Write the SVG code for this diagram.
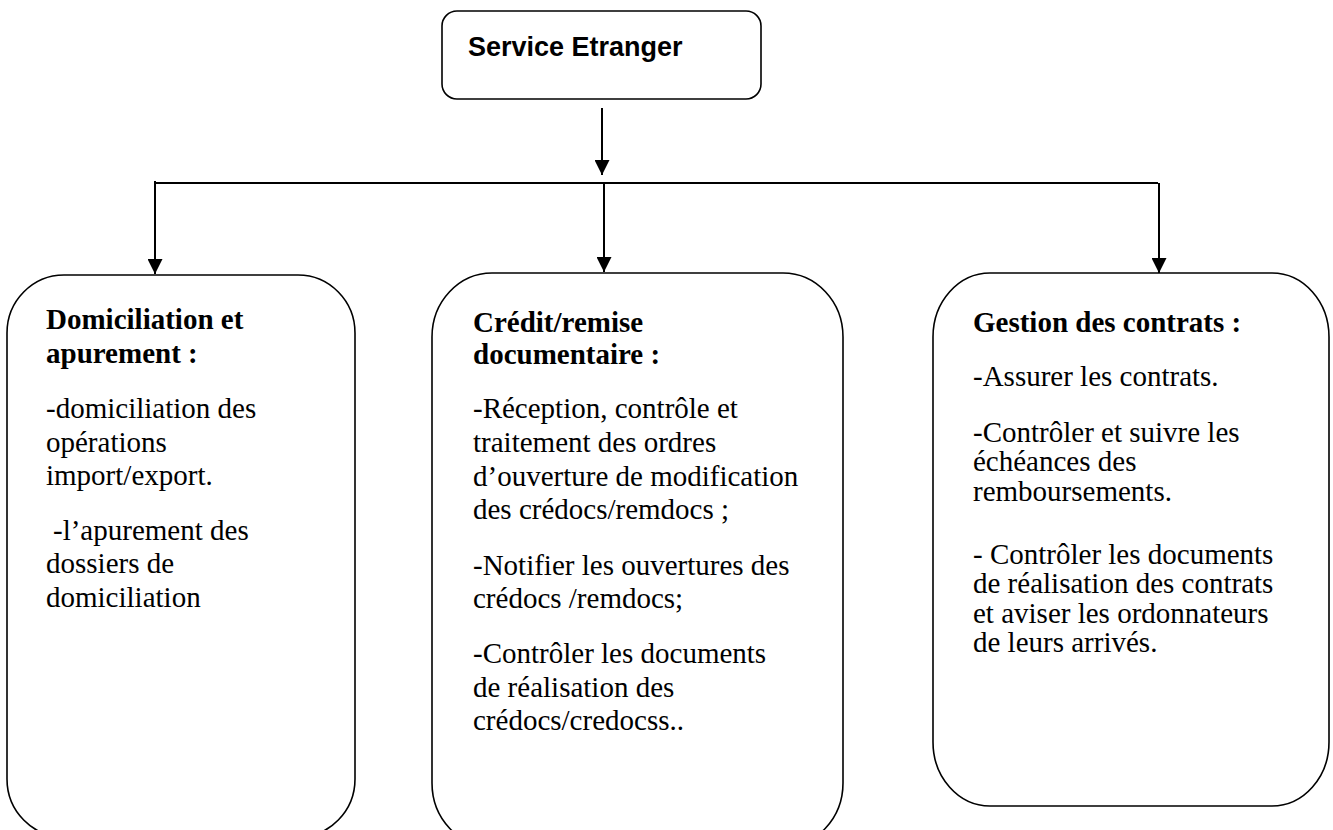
<svg xmlns="http://www.w3.org/2000/svg" width="1333" height="830" viewBox="0 0 1333 830">
<style>
.box{fill:#fff;stroke:#000;stroke-width:1.6}
.ln{fill:none;stroke:#000;stroke-width:2}
.h{font-family:"Liberation Serif","Times New Roman",serif;font-weight:bold;font-size:29px;fill:#000}
.t{font-family:"Liberation Serif","Times New Roman",serif;font-size:29px;fill:#000}
.top{font-family:"Liberation Sans",Arial,sans-serif;font-weight:bold;font-size:27px;fill:#000}
</style>
<defs>
<marker id="arr" markerUnits="userSpaceOnUse" markerWidth="16" markerHeight="15" refX="15" refY="7.5" orient="auto">
<path d="M0,0 L15,7.5 L0,15 Z" fill="#000"/>
</marker>
</defs>
<g id="connectors">
<line class="ln" x1="602" y1="108" x2="602" y2="175" marker-end="url(#arr)"/>
<line class="ln" x1="155" y1="183" x2="1158" y2="183"/>
<line class="ln" x1="155" y1="181" x2="155" y2="274" marker-end="url(#arr)"/>
<line class="ln" x1="604" y1="183" x2="604" y2="272" marker-end="url(#arr)"/>
<line class="ln" x1="1159" y1="183" x2="1159" y2="273" marker-end="url(#arr)"/>
</g>
<g id="service-etranger">
<rect class="box" x="442" y="11" width="319" height="88" rx="15" ry="15"/>
<text class="top" x="468" y="56">Service Etranger</text>
</g>
<g id="domiciliation">
<rect class="box" x="7" y="275" width="348" height="562" rx="57" ry="58"/>
<text class="h" x="46" y="329">Domiciliation et</text>
<text class="h" x="46" y="363">apurement :</text>
<text class="t" x="46" y="418">-domiciliation des</text>
<text class="t" x="46" y="452">opérations</text>
<text class="t" x="46" y="485">import/export.</text>
<text class="t" x="53" y="540">-l’apurement des</text>
<text class="t" x="46" y="573">dossiers de</text>
<text class="t" x="46" y="607">domiciliation</text>
</g>
<g id="credit-remise">
<rect class="box" x="432" y="273" width="411" height="574" rx="60" ry="64"/>
<text class="h" x="473" y="332">Crédit/remise</text>
<text class="h" x="473" y="364">documentaire :</text>
<text class="t" x="473" y="418">-Réception, contrôle et</text>
<text class="t" x="473" y="452">traitement des ordres</text>
<text class="t" x="473" y="486">d’ouverture de modification</text>
<text class="t" x="473" y="519">des crédocs/remdocs ;</text>
<text class="t" x="473" y="575">-Notifier les ouvertures des</text>
<text class="t" x="473" y="608">crédocs /remdocs;</text>
<text class="t" x="473" y="663">-Contrôler les documents</text>
<text class="t" x="473" y="697">de réalisation des</text>
<text class="t" x="473" y="730">crédocs/credocss..</text>
</g>
<g id="gestion-contrats">
<rect class="box" x="933" y="273" width="396" height="533" rx="57" ry="64"/>
<text class="h" x="973" y="332">Gestion des contrats :</text>
<text class="t" x="973" y="386">-Assurer les contrats.</text>
<text class="t" x="973" y="442">-Contrôler et suivre les</text>
<text class="t" x="973" y="471">échéances des</text>
<text class="t" x="973" y="501">remboursements.</text>
<text class="t" x="973" y="564">- Contrôler les documents</text>
<text class="t" x="973" y="593">de réalisation des contrats</text>
<text class="t" x="973" y="623">et aviser les ordonnateurs</text>
<text class="t" x="973" y="652">de leurs arrivés.</text>
</g>
</svg>
